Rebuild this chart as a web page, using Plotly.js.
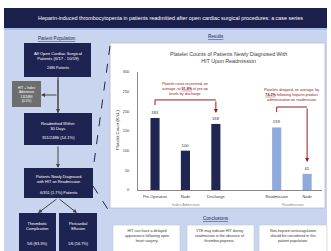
<!DOCTYPE html>
<html><head><meta charset="utf-8">
<script src="https://cdn.plot.ly/plotly-3.0.1.min.js"></script>
<style>html,body{margin:0;padding:0;background:#fff}#c{width:331px;height:251px}</style>
</head><body><div id="c"></div>
<script>
// ---- data ----
const categories = ['Pre-Operative', 'Nadir', 'Discharge', ' ', 'Readmission', 'Nadir '];
const tickLabels = ['Pre-Operative', 'Nadir', 'Discharge', '', 'Readmission', 'Nadir'];
const indexCats = ['Pre-Operative', 'Nadir', 'Discharge'];
const indexVals = [183, 100, 168];
const readmCats = ['Readmission', 'Nadir '];
const readmVals = [159, 41];
const yTicks = [0, 50, 100, 150, 200, 250, 300];
const groupLabels = ['Index Admission', 'Readmission'];

const W = 331, H = 251;
const X = p => p / W, Y = p => 1 - p / H;
const FONT = 'Liberation Sans, Arial, sans-serif';
const NAVY = '#1e2452', LAV = '#c9d4ef', RED = '#8b2020';

const shapes = [], ann = [];
function rect(x0, y0, x1, y1, fill, line, lw, layer) {
  shapes.push({type: 'rect', xref: 'paper', yref: 'paper', x0: X(x0), x1: X(x1), y0: Y(y1), y1: Y(y0),
    fillcolor: fill, line: {color: line || fill, width: lw || 0}, layer: layer || 'below'});
}
function line(x0, y0, x1, y1, color, w, dash) {
  shapes.push({type: 'line', xref: 'paper', yref: 'paper', x0: X(x0), x1: X(x1), y0: Y(y0), y1: Y(y1),
    line: {color: color, width: w || 1, dash: dash || 'solid'}, layer: 'above'});
}
function txt(x, y, t, size, color, opts) {
  ann.push(Object.assign({xref: 'paper', yref: 'paper', x: X(x), y: Y(y), text: t, showarrow: false,
    xanchor: 'center', yanchor: 'middle', font: {family: FONT, size: size, color: color}}, opts || {}));
}
function arrow(x0, y0, x1, y1, color) {
  ann.push({xref: 'paper', yref: 'paper', x: X(x1), y: Y(y1), ax: x0 - x1, ay: y0 - y1, text: '',
    showarrow: true, arrowhead: 2, arrowsize: 0.8, arrowwidth: 1, arrowcolor: color, standoff: 0});
}

// background + header
rect(0, 0, W, H, '#ffffff');
rect(4, 29, 327, H, LAV);
rect(4, 8, 327, 28, '#1b1f4b');
rect(4, 28, 327, 30, '#a9bbe6');
txt(170, 18, 'Heparin-induced thrombocytopenia in patients readmitted after open cardiac surgical procedures: a case series', 5.4, '#ffffff');

// left column: flowchart
txt(57, 39, '<u>Patient Population</u>', 4.6, '#1e2452');
rect(24, 43, 91, 77, NAVY, NAVY, 0, 'above');
txt(57.5, 56, 'All Open Cardiac Surgical<br>Patients (6/17 - 10/19)', 4.2, '#ffffff');
txt(57.5, 68, '2486 Patients', 3.6, '#ffffff');
line(58, 77, 58, 113, '#444');
arrow(58, 78, 58, 113, '#444');
arrow(58, 95, 41, 95, '#444');
rect(12, 81, 41, 107, '#6e6e6e', '#6e6e6e', 0, 'above');
txt(26.5, 94, 'HIT + Index<br>Admission<br>13/2486<br>(0.5%)', 3.3, '#ffffff');
rect(24, 113, 92, 145, NAVY, NAVY, 0, 'above');
txt(58, 126, 'Readmitted Within<br>30 Days', 4.1, '#ffffff');
txt(58, 137, '351/2486 (14.1%)', 4.1, '#ffffff');
arrow(58, 145, 58, 168, '#444');
rect(24, 168, 93, 198, NAVY, NAVY, 0, 'above');
txt(58.5, 179, 'Patients Newly Diagnosed<br>with HIT on Readmission', 3.9, '#ffffff');
txt(58.5, 192, '6/351 (1.7%) Patients', 3.9, '#ffffff');
arrow(58, 198, 38, 213, '#444');
arrow(58, 198, 77, 213, '#444');
rect(19, 213, 56, 260, NAVY, NAVY, 0, 'above');
rect(59, 213, 97, 260, NAVY, NAVY, 0, 'above');
txt(37.5, 226, 'Thrombotic<br>Complication', 3.9, '#ffffff');
txt(37.5, 243, '5/6 (83.3%)', 3.9, '#ffffff');
txt(78, 226, 'Pericardial<br>Effusion', 3.9, '#ffffff');
txt(78, 243, '1/6 (16.7%)', 3.9, '#ffffff');
line(110, 46, 93, 170, NAVY, 1, 'dash');
line(93, 186, 109, 211, NAVY, 1, 'dash');

// results panel
txt(216, 37, '<u>Results</u>', 4.6, '#1e2452');
rect(110, 43, 325, 208, '#ffffff', '#b8bcc8', 0.8);
txt(228, 57.5, 'Platelet Counts of Patients Newly Diagnosed With<br>HIT Upon Readmission', 5.3, '#3a3a3a');
txt(117, 130, 'Platelet Count (K/uL)', 4.3, '#3a3a3a', {textangle: -90});
txt(186, 205, groupLabels[0], 3.8, '#8a8a8a');
txt(293, 205, groupLabels[1], 3.8, '#8a8a8a');

// brackets (data coordinates derived from values)
const ci = c => categories.indexOf(c);
function bracket(xa, xb, top, leftBottom, tip, label, lx, ly) {
  shapes.push({type: 'line', xref: 'x', yref: 'y', x0: xa, x1: xb, y0: top, y1: top, line: {color: RED, width: 1}});
  shapes.push({type: 'line', xref: 'x', yref: 'y', x0: xa, x1: xa, y0: top, y1: leftBottom, line: {color: RED, width: 1}});
  ann.push({xref: 'x', yref: 'y', axref: 'x', ayref: 'y', x: xb, y: tip, ax: xb, ay: top, text: '',
    showarrow: true, arrowhead: 2, arrowsize: 0.8, arrowwidth: 1, arrowcolor: RED, standoff: 0});
  ann.push({xref: 'x', yref: 'y', x: lx, y: ly, text: label, showarrow: false,
    font: {family: FONT, size: 3.7, color: RED}, align: 'center'});
}
bracket(ci(indexCats[0]), ci(indexCats[2]), indexVals[0] + 46, indexVals[0] + 33, indexVals[2] + 28,
  'Platelet count recovered, on<br>average, to <b><u>91.8%</u></b> of pre-op<br>levels by discharge', ci(indexCats[1]), indexVals[0] + 74);
bracket(ci(readmCats[0]), ci(readmCats[1]), readmVals[0] + 52, readmVals[0] + 39, readmVals[1] + 30,
  'Platelets dropped, on average, by<br><b><u>74.2%</u></b> following heparin product<br>administration on readmission', 4.5, readmVals[0] + 82);

// conclusions
txt(216, 218, '<u>Conclusions</u>', 4.6, '#1e2452');
rect(113, 225, 180, 260, '#ffffff', '#c0c6d8', 0.6);
rect(187, 225, 254, 260, '#ffffff', '#c0c6d8', 0.6);
rect(259, 225, 327, 260, '#ffffff', '#c0c6d8', 0.6);
txt(146.5, 236, 'HIT can have a delayed<br>appearance following open<br>heart surgery.', 3.7, '#333');
txt(220.5, 236, 'VTE may indicate HIT during<br>readmission in the absence of<br>thrombocytopenia.', 3.7, '#333');
txt(293, 236, 'Non-heparin anticoagulation<br>should be considered in this<br>patient population.', 3.7, '#333');

const traces = [
  {type: 'bar', x: indexCats, y: indexVals, text: indexVals.map(String), textposition: 'outside',
   textfont: {family: FONT, size: 4.2, color: '#333'}, marker: {color: '#1f2652'}, width: 0.3,
   cliponaxis: false, hoverinfo: 'skip'},
  {type: 'bar', x: readmCats, y: readmVals, text: readmVals.map(String), textposition: 'outside',
   textfont: {family: FONT, size: 4.2, color: '#333'}, marker: {color: '#8faadc'}, width: 0.3,
   cliponaxis: false, hoverinfo: 'skip'}
];

const layout = {
  width: W, height: H, margin: {l: 0, r: 0, t: 0, b: 0, pad: 0},
  paper_bgcolor: '#ffffff', plot_bgcolor: 'rgba(0,0,0,0)', showlegend: false, barmode: 'overlay',
  font: {family: FONT},
  xaxis: {type: 'category', categoryorder: 'array', categoryarray: categories,
    tickvals: categories, ticktext: tickLabels, range: [-0.56, 5.49],
    domain: [138 / W, 322 / W], showline: true, linecolor: '#8a8a8a', linewidth: 1,
    ticks: '', showgrid: false, zeroline: false, tickfont: {size: 3.9, color: '#333'}, ticklabelstandoff: 2},
  yaxis: {range: [0, 300], domain: [Y(190), Y(72)], tickvals: yTicks, showline: true,
    linecolor: '#8a8a8a', linewidth: 1, ticks: '', showgrid: false, zeroline: false,
    tickfont: {size: 3.9, color: '#333'}, ticklabelstandoff: 7},
  shapes: shapes, annotations: ann
};
Plotly.newPlot('c', traces, layout, {staticPlot: true, displayModeBar: false});
</script></body></html>
